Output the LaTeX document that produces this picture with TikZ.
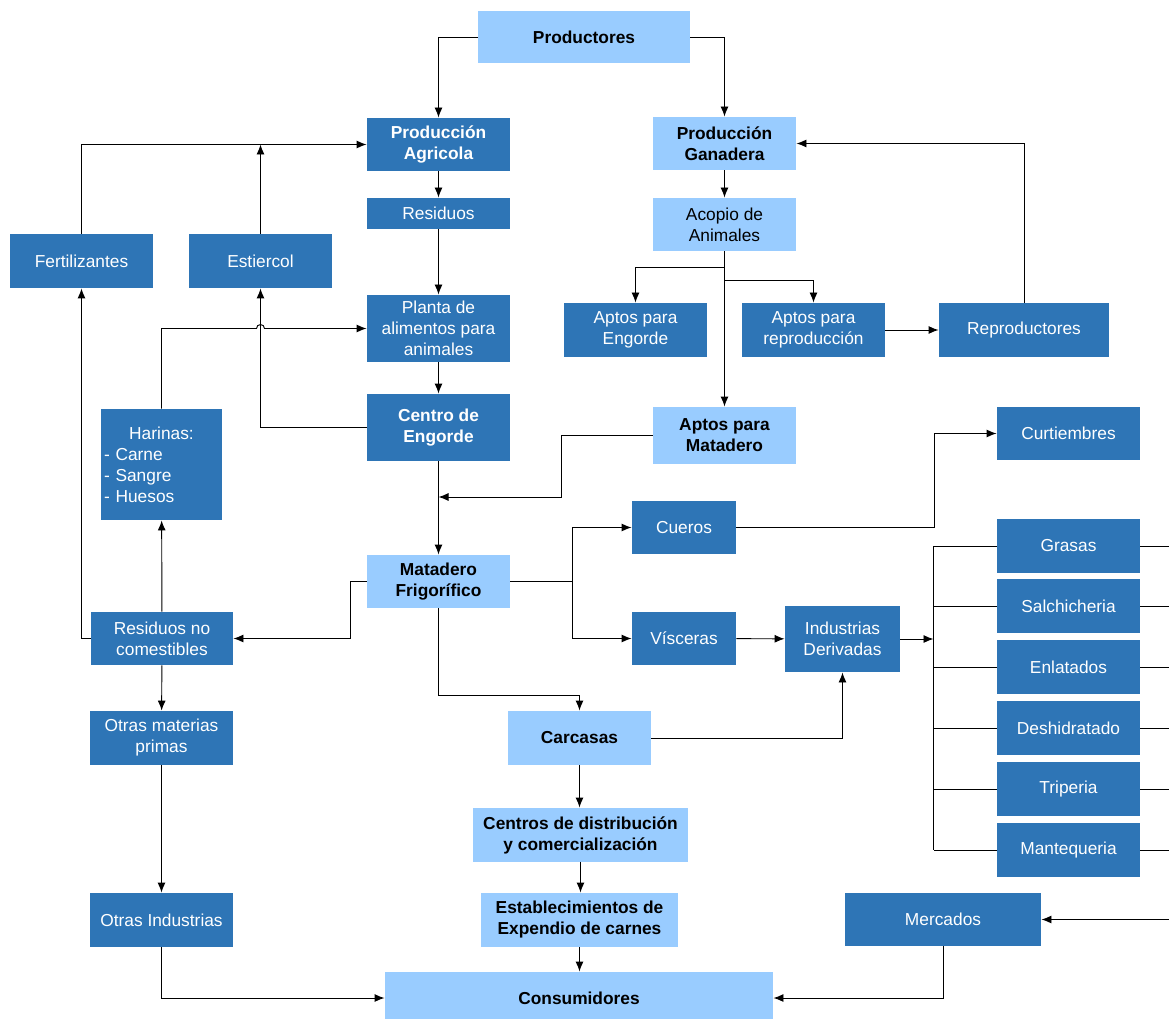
\documentclass[tikz,border=0pt]{standalone}
\usepackage{fontspec}
\setmainfont{Liberation Sans}
\usepackage{tikz}
\usepackage{xcolor}
\usetikzlibrary{arrows.meta, calc}
\definecolor{azul}{RGB}{46,117,182}
\definecolor{celeste}{RGB}{153,204,255}

\begin{document}
\begin{tikzpicture}[x=0.75pt, y=-0.75pt, >={Latex[length=7.5pt, width=6pt]}, line width=0.7pt,
        caja/.style 2 args={rectangle, inner sep=0pt, align=center, minimum width=#1*0.75pt, minimum height=#2*0.75pt, font=\fontsize{13}{15.75}\selectfont},
        oscura/.style 2 args={caja={#1}{#2}, fill=azul, text=white},
        clara/.style 2 args={caja={#1}{#2}, fill=celeste, text=black},
        negrita/.style={font=\fontsize{13}{15.75}\selectfont\bfseries}]
                                \useasboundingbox (0, 0) rectangle (1169, 1019);
                                % columna agricola
                                \node[clara={212}{52}, negrita] (productores) at (584, 37) {Productores};
                                \node[oscura={143}{53}, negrita] (prodAgr) at (438.5, 144.5) {Producción\\Agricola};
                                \node[oscura={143}{31}] (residuos) at (438.5, 213.5) {Residuos};
                                \node[oscura={143}{54}] (fert) at (81.5, 261) {Fertilizantes};
                                \node[oscura={143}{54}] (estiercol) at (260.5, 261) {Estiercol};
                                \node[oscura={143}{67}] (planta) at (438.5, 328.5) {Planta de\\alimentos para\\animales};
                                \node[oscura={143}{67}, negrita] (engorde) at (438.5, 427.5) {Centro de\\Engorde};
                                \node[oscura={121}{111}, align=left, text width=115*0.75pt] (harinas) at (161.5, 464.5) {\hfill Harinas:\hfill\mbox{}\\- Carne\\- Sangre\\- Huesos};
                                \node[clara={143}{53}, negrita] (matadero) at (438.5, 581.5) {Matadero\\Frigorífico};
                                \node[oscura={142}{53}] (resNoCom) at (162, 638.5) {Residuos no\\comestibles};
                                \node[oscura={143}{54}] (otrasMat) at (161.5, 738) {Otras materias\\primas};
                                \node[oscura={143}{54}] (otrasInd) at (161.5, 920) {Otras Industrias};
                                % columna ganadera
                                \node[clara={143}{53}, negrita] (prodGan) at (724.5, 143.5) {Producción\\Ganadera};
                                \node[clara={143}{53}] (acopio) at (724.5, 224.5) {Acopio de\\Animales};
                                \node[oscura={143}{54}] (aptEng) at (635.5, 330) {Aptos para\\Engorde};
                                \node[oscura={143}{54}] (aptRep) at (813.5, 330) {Aptos para\\reproducción};
                                \node[oscura={170}{54}] (reprod) at (1024, 330) {Reproductores};
                                \node[clara={143}{57}, negrita] (aptMat) at (724.5, 435.5) {Aptos para\\Matadero};
                                \node[oscura={143}{53}] (curt) at (1068.5, 433.5) {Curtiembres};
                                \node[oscura={104}{53}] (cueros) at (684, 527.5) {Cueros};
                                \node[oscura={104}{53}] (visceras) at (684, 638.5) {Vísceras};
                                \node[oscura={115}{66}] (indDer) at (842.5, 639) {Industrias\\Derivadas};
                                \node[oscura={143}{54}] (grasas) at (1068.5, 546) {Grasas};
                                \node[oscura={143}{54}] (salch) at (1068.5, 606) {Salchicheria};
                                \node[oscura={143}{54}] (enlat) at (1068.5, 667) {Enlatados};
                                \node[oscura={143}{54}] (deshid) at (1068.5, 728) {Deshidratado};
                                \node[oscura={143}{54}] (triperia) at (1068.5, 789) {Triperia};
                                \node[oscura={143}{54}] (mantequeria) at (1068.5, 850) {Mantequeria};
                                % distribucion
                                \node[clara={143}{54}, negrita] (carcasas) at (579.5, 738) {Carcasas};
                                \node[clara={215}{54}, negrita] (centros) at (580.5, 835) {Centros de distribución\\y comercialización};
                                \node[clara={197}{54}, negrita] (establ) at (579.5, 920) {Establecimientos de\\Expendio de carnes};
                                \node[clara={388}{52}, negrita] (consum) at (579, 998) {Consumidores};
                                \node[oscura={196}{53}] (mercados) at (943, 919.5) {Mercados};
                                \coordinate (busTop) at (933.5, 546);
                                \coordinate (busBot) at (933.5, 850);
                                \coordinate (borde) at (1169, 919.5);
                                \draw
                                (prodAgr) edge[->] (residuos)
                                (residuos) edge[->] (planta)
                                (planta) edge[->] (engorde)
                                (engorde) edge[->] (matadero)
                                (prodGan) edge[->] (acopio)
                                (acopio) edge[->] (aptMat)
                                (aptRep) edge[->] (reprod)
                                (visceras) edge[->] (indDer)
                                (resNoCom) edge[->] (harinas)
                                (resNoCom) edge[->] (otrasMat)
                                (otrasMat) edge[->] (otrasInd)
                                (carcasas.south) edge[->] (carcasas.south |- centros.north)
                                (centros.south |- establ.north) ++(0, -31) edge[->] (centros.south |- establ.north)
                                (establ.south) edge[->] (establ.south |- consum.north)
                                (indDer.east) edge[->] (indDer.east -| busTop)
                                (borde) edge[->] (mercados.east)
                                (estiercol.north) edge[->] (estiercol.north |- prodAgr.west);
                                \draw[->] (productores.west) -| (prodAgr.north);
                                \draw[->] (productores.east) -| (prodGan.north);
                                \draw[->] (fert.north) |- (prodAgr.west);
                                \draw[->] (engorde.west) -| (estiercol.south);
                                \draw[->] (harinas.north) |- ($(estiercol.south |- planta.west) + (-4, 0)$) arc[start angle=180, end angle=0, radius=3pt] -- (planta.west);
                                \draw[->] (aptMat.west) -- ++(-91, 0) |- (438.5, 497);
                                \draw[->] (acopio.south) ++(0, 16) -| (aptEng.north);
                                \draw[->] (acopio.south) ++(0, 29) -| (aptRep.north);
                                \draw[->] (reprod.north) |- (prodGan.east);
                                \draw[->] (matadero.west) -- ++(-16, 0) |- (resNoCom.east);
                                \draw[->] (resNoCom.west) -| (fert.south);
                                \draw[->] (matadero.east) -- ++(62, 0) |- (cueros.west);
                                \draw[->] (matadero.east) -- ++(62, 0) |- (visceras.west);
                                \draw[->] (matadero.south) -- ++(0, 87) -| (carcasas.north);
                                \draw[->] (cueros.east) -- ++(198, 0) |- (curt.west);
                                \draw[->] (carcasas.east) -| (indDer.south);
                                \draw[->] (otrasInd.south) |- (consum.west);
                                \draw[->] (mercados.south) |- (consum.east);
                                \draw (busTop) -- (busBot);
                                \foreach \prod in {grasas, salch, enlat, deshid, triperia, mantequeria}
                                {
                                \draw (\prod.west) -- (\prod.west -| busTop);
                                \draw (\prod.east) -- (\prod.east -| borde);
                                }
                            \end{tikzpicture}
\end{document}
